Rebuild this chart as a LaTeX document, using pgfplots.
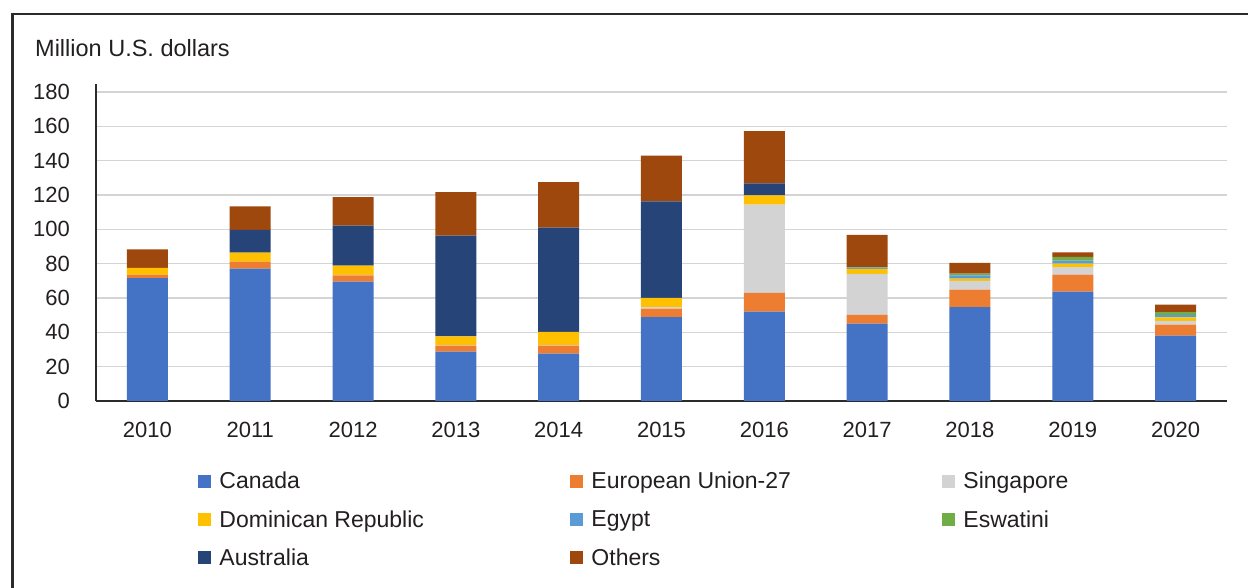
\documentclass[border=0pt]{standalone}
\usepackage{pgfplots}
\pgfplotsset{compat=1.18}
\usepackage{pgfplotstable}
\usepackage{fontspec}
\setmainfont{Liberation Sans}
\definecolor{cCan}{HTML}{4472C4}
\definecolor{cEU}{HTML}{ED7D31}
\definecolor{cSG}{HTML}{D3D3D3}
\definecolor{cDR}{HTML}{FFC000}
\definecolor{cEG}{HTML}{5B9BD5}
\definecolor{cES}{HTML}{70AD47}
\definecolor{cAU}{HTML}{264478}
\definecolor{cOT}{HTML}{9E480E}
\definecolor{txt}{HTML}{231F20}
\definecolor{framec}{HTML}{2B2B2B}
\definecolor{gridc}{HTML}{D4D4D4}
\pgfplotstableread{
x can eu sg dr eg es au ot
0 71.5 2.1 0.0 3.9 0.0 0.0 0.0 10.8
1 77.1 4.0 0.0 5.3 0.0 0.0 13.2 13.8
2 69.5 3.7 0.3 5.3 0.0 0.0 23.3 16.7
3 28.7 3.5 0.4 5.1 0.0 0.0 58.6 25.4
4 27.6 4.6 0.3 7.7 0.0 0.0 60.7 26.5
5 48.9 4.9 0.8 5.4 0.0 0.0 56.3 26.6
6 52.0 10.9 51.4 5.5 0.0 0.0 7.0 30.3
7 45.0 5.1 23.9 2.9 0.8 0.2 0.0 18.8
8 54.7 10.1 5.1 1.4 1.9 1.0 0.0 6.2
9 63.7 9.9 4.4 2.0 1.7 2.2 0.0 2.7
10 38.0 6.5 2.1 2.1 1.4 1.7 0.0 4.3
}\data
\newcommand\lent[1]{\makebox[351pt][l]{\rule[-5pt]{0pt}{21pt}#1}}
\newcommand\lenl[1]{\rule[-5pt]{0pt}{21pt}#1}
\begin{document}
\begin{tikzpicture}[x=1pt,y=1pt]
\useasboundingbox (0,0) rectangle (1248,588);
\draw[line width=2.5pt, color=framec] (12.5,0) -- (12.5,574) -- (1248,574);
\node[anchor=base west, inner sep=0pt, font=\fontsize{23.5}{28}\selectfont, text=txt] at (35,531) {Million U.S.\ dollars};
\begin{axis}[
  at={(96pt,187pt)}, anchor=south west,
  scale only axis, width=1131pt, height=316.8pt,
  xmin=-0.5, xmax=10.5, ymin=0, ymax=184.5,
  ytick={0,20,...,180}, xtick={0,...,10},
  xticklabels={2010,2011,2012,2013,2014,2015,2016,2017,2018,2019,2020},
  ybar stacked, bar width=41pt,
  axis x line*=bottom, axis y line*=left,
  axis line style={line width=2.5pt, color=framec, -},
  every outer x axis line/.append style={-},
  every outer y axis line/.append style={-},
  ymajorgrids, major grid style={line width=1.5pt, color=gridc},
  major tick length=0pt,
  tick label style={font=\fontsize{22}{26}\selectfont, text=txt, inner sep=0pt},
  yticklabel style={anchor=east, xshift=-26pt},
  xticklabel style={anchor=north, yshift=-21pt},
  /pgf/number format/assume math mode=true,
  legend columns=3,
  legend cell align=left,
  legend style={at={(rel axis cs:0.0906,-0.225)}, anchor=north west, draw=none, fill=none,
    inner sep=0pt, outer sep=0pt, font=\fontsize{23}{27}\selectfont, text=txt,
    nodes={inner sep=0pt}, row sep=20pt,
    /tikz/every odd column/.append style={column sep=8pt}},
  legend image code/.code={\fill[#1] (0pt,-6.5pt) rectangle (13pt,6.5pt);},
]
\addplot[fill=cCan, draw=none] table[x=x,y=can] {\data};
\addplot[fill=cEU, draw=none] table[x=x,y=eu] {\data};
\addplot[fill=cSG, draw=none] table[x=x,y=sg] {\data};
\addplot[fill=cDR, draw=none] table[x=x,y=dr] {\data};
\addplot[fill=cEG, draw=none] table[x=x,y=eg] {\data};
\addplot[fill=cES, draw=none] table[x=x,y=es] {\data};
\addplot[fill=cAU, draw=none] table[x=x,y=au] {\data};
\addplot[fill=cOT, draw=none] table[x=x,y=ot] {\data};
\legend{\lent{Canada},\lent{European Union-27},\lenl{Singapore},\lent{Dominican Republic},\lent{Egypt},\lenl{Eswatini},\lent{Australia},\lent{Others}}
\end{axis}
\end{tikzpicture}
\end{document}
